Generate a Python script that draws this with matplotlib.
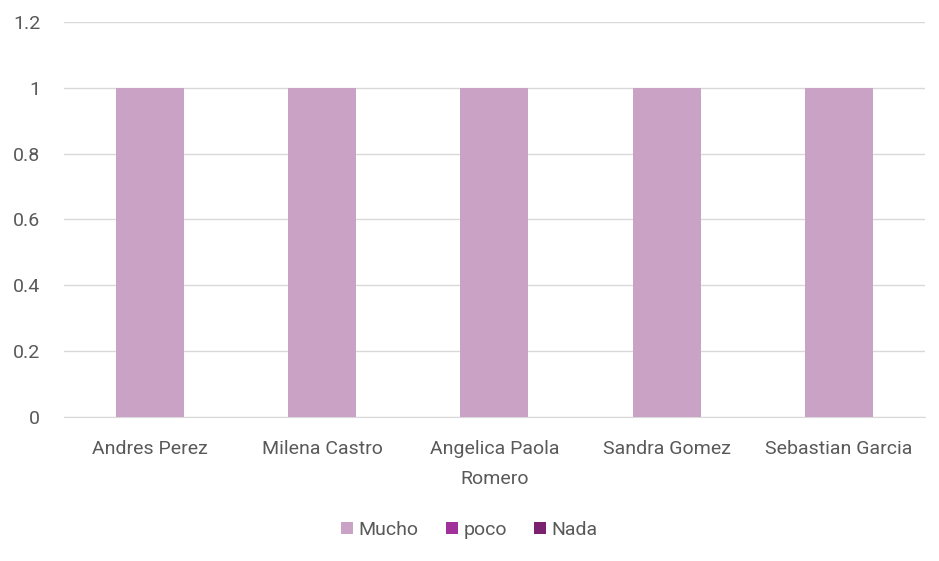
import matplotlib
matplotlib.use("Agg")
import matplotlib.pyplot as plt
import numpy as np

plt.rcParams['font.family'] = ['Roboto', 'DejaVu Sans']

names = ["Andres Perez", "Milena Castro", "Angelica Paola\nRomero", "Sandra Gomez", "Sebastian Garcia"]
mucho = [1, 1, 1, 1, 1]
poco = [0, 0, 0, 0, 0]
nada = [0, 0, 0, 0, 0]

colors = {"Mucho": "#C9A2C6", "poco": "#A0309A", "Nada": "#7B2170"}
text_color = "#595959"

fig = plt.figure(figsize=(9.39, 5.61), dpi=100)
ax = fig.add_axes([0.068, 0.257, 0.917, 0.704])

x = np.arange(len(names))
w = 0.395
ax.bar(x, mucho, w, color=colors["Mucho"], label="Mucho", zorder=3)
ax.bar(x, poco, w, bottom=mucho, color=colors["poco"], label="poco", zorder=3)
bottom2 = [a + b for a, b in zip(mucho, poco)]
ax.bar(x, nada, w, bottom=bottom2, color=colors["Nada"], label="Nada", zorder=3)

ax.set_xlim(-0.5, len(names) - 0.5)
ax.set_ylim(0, 1.2)
ax.set_yticks([0, 0.2, 0.4, 0.6, 0.8, 1, 1.2])
ax.set_yticklabels(["0", "0.2", "0.4", "0.6", "0.8", "1", "1.2"])
ax.yaxis.grid(True, color="#D9D9D9", linewidth=1, zorder=0)
ax.set_xticks(x)
ax.set_xticklabels(names, linespacing=1.85)
ax.tick_params(axis='both', length=0, colors=text_color, labelsize=14)
ax.tick_params(axis='x', pad=17)
ax.tick_params(axis='y', pad=17)
for s in ["top", "right", "left"]:
    ax.spines[s].set_visible(False)
ax.spines["bottom"].set_color("#D9D9D9")

leg = fig.legend(loc="center", bbox_to_anchor=(0.5, 0.055), ncol=3, frameon=False,
                 fontsize=14, handlelength=0.6, handleheight=0.6, handletextpad=0.3,
                 columnspacing=1.4)
for t in leg.get_texts():
    t.set_color(text_color)

fig.savefig("out.png", dpi=100)
